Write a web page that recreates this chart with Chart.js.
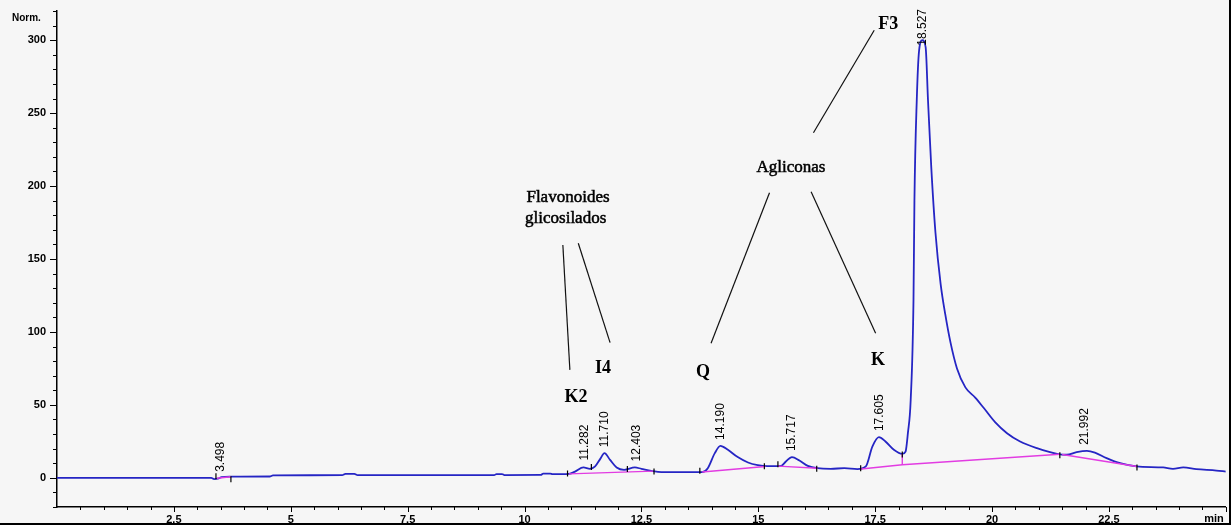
<!DOCTYPE html>
<html>
<head>
<meta charset="utf-8">
<script src="https://cdn.jsdelivr.net/npm/chart.js@4.4.0/dist/chart.umd.min.js"></script>
<style>
    html, body { margin: 0; padding: 0; background: #f6f6f6; }
    canvas { display: block; }
</style>
</head>
<body>
<canvas id="cromatograma" width="1231" height="525"></canvas>
<script>
const tiempos = [
    0.00, 3.30, 3.36, 3.44, 3.52, 3.70, 4.55, 4.62, 6.10, 6.17, 6.36, 6.43,
    9.35, 9.40, 9.52, 9.57, 10.35, 10.40, 10.55, 10.60, 10.95, 11.08, 11.26, 11.40,
    11.51, 11.62, 11.71, 11.83, 11.97, 12.13, 12.36, 12.50, 12.71, 12.93, 13.80, 13.92,
    14.07, 14.19, 14.35, 14.56, 14.78, 14.99, 15.20, 15.49, 15.59, 15.72, 15.88, 16.06,
    16.27, 16.55, 16.84, 17.12, 17.30, 17.44, 17.58, 17.72, 17.90, 18.08, 18.15, 18.20,
    18.26, 18.32, 18.34, 18.39, 18.44, 18.51, 18.58, 18.63, 18.70, 18.79, 18.90, 19.00,
    19.11, 19.25, 19.43, 19.64, 19.82, 20.07, 20.32, 20.60, 20.96, 21.39, 21.60, 21.81,
    22.03, 22.20, 22.45, 22.74, 23.09, 23.66, 23.87, 24.09, 24.37, 24.80, 25.00
];
const senal = [
    0.0, 0.0, -0.9, -0.6, 0.4, 0.8, 0.9, 1.7, 1.8, 2.7, 2.7, 1.8,
    1.8, 2.6, 2.6, 1.9, 2.0, 2.9, 2.9, 2.5, 2.7, 4.3, 7.1, 6.2,
    7.8, 13.0, 16.9, 12.3, 7.1, 5.5, 7.1, 6.2, 4.8, 3.9, 3.9, 6.6,
    16.9, 21.9, 19.2, 14.2, 10.5, 8.7, 8.0, 8.2, 11.2, 14.2, 11.9, 8.2,
    6.6, 6.2, 6.6, 6.0, 7.8, 21.4, 27.9, 24.9, 19.2, 16.4, 18.0, 30.6,
    53.4, 122, 190, 259, 293, 300, 295, 259, 213, 168, 133, 112,
    93, 75, 62, 55, 48, 38, 30.6, 24.9, 20.3, 16.4, 15.8, 17.6,
    18.5, 17.3, 13.5, 10.0, 7.8, 7.1, 6.2, 7.1, 6.0, 5.0, 4.3
];

// linea base de integracion (null corta el trazo)
const baseTiempos = [3.42, 3.72, 3.72, 10.95, 12.75, 12.75, 13.80, 15.15, 15.15, 15.42, 16.27, 16.27, 17.20, 18.08, 21.45, 21.45, 21.50, 23.10];
const baseValores = [-0.3, 0.7, null, 2.7, 4.6, null, 4.0, 7.8, null, 8.0, 6.6, null, 6.0, 9.0, 16.2, null, 16.0, 7.8];

// corte vertical en el valle antes del pico principal
const corteTiempos = [18.08, 18.08];
const corteValores = [9.0, 16.4];

// marcas de inicio / fin de integracion
const marcaTiempos = [3.40, 3.72, 10.92, 11.43, 12.20, 12.77, 13.75, 15.13, 15.42, 16.25, 17.19, 18.08, 21.45, 23.10];
const marcaValores = [1.0, -1.0, 3.0, 7.5, 6.0, 4.4, 4.8, 8.0, 9.3, 6.3, 6.5, 16.0, 15.5, 7.0];

// picos con tiempo de retencion
const picoTiempos = [3.498, 11.282, 11.710, 12.403, 14.190, 15.717, 17.605, 18.527, 21.992];
const picoAlturas = [0, 7.8, 16.9, 7.1, 21.9, 14.2, 27.9, 300, 18.5];
const picoEtiquetas = ['3.498', '11.282', '11.710', '12.403', '14.190', '15.717', '17.605', '18.527', '21.992'];

// ejes
const xMin = 0, xMax = 25, xPaso = 0.5, xMayor = 2.5;
const yMin = -20, yMax = 320, yPaso = 10, yMayor = 50;

// anotaciones (en unidades de datos)
const notas = [
    { texto: 'Flavonoides', t: 10.93, v: 189.0, negrita: false },
    { texto: 'glicosilados', t: 10.88, v: 174.7, negrita: false },
    { texto: 'Agliconas', t: 15.70, v: 209.8, negrita: false },
    { texto: 'K2', t: 11.10, v: 52.3, negrita: true },
    { texto: 'I4', t: 11.68, v: 72.1, negrita: true },
    { texto: 'Q', t: 13.82, v: 69.4, negrita: true },
    { texto: 'K', t: 17.56, v: 77.4, negrita: true },
    { texto: 'F3', t: 17.78, v: 308.0, negrita: true }
];
const guias = [
    [10.82, 159.6, 10.97, 74.0],
    [11.15, 160.8, 11.83, 92.7],
    [15.24, 195.4, 13.99, 92.3],
    [16.13, 196.1, 17.51, 99.1],
    [17.48, 306.8, 16.18, 236.5]
];

const sans = '"Liberation Sans", Arial, sans-serif';
const serif = '"Liberation Serif", "Times New Roman", serif';

function esMultiplo(v, m) {
    return Math.abs(v / m - Math.round(v / m)) < 1e-6;
}

function puntos(xs, ys) {
    return xs.map((t, i) => ({ x: t, y: ys[i] }));
}

const fondo = {
    id: 'fondo',
    beforeDraw(chart) {
        const ctx = chart.ctx;
        ctx.save();
        ctx.fillStyle = '#f6f6f6';
        ctx.fillRect(0, 0, chart.width, chart.height);
        ctx.restore();
    }
};

const decoracion = {
    id: 'decoracion',
    afterDatasetsDraw(chart) {
        const { ctx, scales: { x, y } } = chart;
        ctx.save();

        // etiquetas de tiempo de retencion, giradas
        ctx.fillStyle = '#000';
        ctx.font = '12px ' + sans;
        ctx.textAlign = 'left';
        ctx.textBaseline = 'middle';
        picoTiempos.forEach((t, i) => {
            const w = ctx.measureText(picoEtiquetas[i]).width;
            const px = x.getPixelForValue(t);
            let py = y.getPixelForValue(picoAlturas[i]) - 6;
            if (py - w < 9) py = 9 + w;
            ctx.save();
            ctx.translate(px, py);
            ctx.rotate(-Math.PI / 2);
            ctx.fillText(picoEtiquetas[i], 0, 0);
            ctx.restore();
        });

        // lineas guia de las anotaciones
        ctx.strokeStyle = '#111';
        ctx.lineWidth = 1.2;
        guias.forEach(g => {
            ctx.beginPath();
            ctx.moveTo(x.getPixelForValue(g[0]), y.getPixelForValue(g[1]));
            ctx.lineTo(x.getPixelForValue(g[2]), y.getPixelForValue(g[3]));
            ctx.stroke();
        });

        // texto de las anotaciones, algo engrosado como en el original
        ctx.textAlign = 'center';
        ctx.textBaseline = 'alphabetic';
        ctx.lineWidth = 0.5;
        ctx.strokeStyle = '#000';
        notas.forEach(n => {
            ctx.font = (n.negrita ? 'bold 18px ' : '17px ') + serif;
            const px = x.getPixelForValue(n.t);
            const py = y.getPixelForValue(n.v);
            ctx.fillText(n.texto, px, py);
            if (!n.negrita) ctx.strokeText(n.texto, px, py);
        });
        ctx.restore();
    },
    afterDraw(chart) {
        const { ctx, chartArea, scales: { x, y } } = chart;
        ctx.save();
        ctx.strokeStyle = '#000';
        ctx.lineWidth = 1;

        // marcas del eje Y
        y.ticks.forEach(tk => {
            const py = Math.round(y.getPixelForValue(tk.value)) + 0.5;
            const largo = esMultiplo(tk.value, yMayor) ? 7 : 4;
            ctx.beginPath();
            ctx.moveTo(chartArea.left - largo, py);
            ctx.lineTo(chartArea.left, py);
            ctx.stroke();
        });

        // marcas del eje X
        x.ticks.forEach(tk => {
            if (tk.value <= xMin) return;
            const px = Math.round(x.getPixelForValue(tk.value)) + 0.5;
            const largo = esMultiplo(tk.value, xMayor) ? 5 : 3;
            ctx.beginPath();
            ctx.moveTo(px, chartArea.bottom);
            ctx.lineTo(px, chartArea.bottom + largo);
            ctx.stroke();
        });

        ctx.fillStyle = '#000';
        ctx.font = 'bold 11px ' + sans;
        ctx.textAlign = 'right';
        ctx.textBaseline = 'top';
        ctx.fillText('min', chartArea.right - 2, chartArea.bottom + 6);

        ctx.textAlign = 'left';
        ctx.textBaseline = 'alphabetic';
        ctx.font = 'bold 10px ' + sans;
        ctx.fillText('Norm.', 12, 21);

        // marco derecho e inferior
        ctx.fillRect(chart.width - 2, 0, 2, chart.height);
        ctx.fillRect(0, chart.height - 2, chart.width, 2);
        ctx.restore();
    }
};

document.addEventListener('DOMContentLoaded', () => {
    const ctx = document.getElementById('cromatograma').getContext('2d');
    new Chart(ctx, {
        type: 'line',
        data: {
            datasets: [
                {
                    label: 'señal',
                    data: puntos(tiempos, senal),
                    borderColor: '#2525c4',
                    borderWidth: 1.8,
                    pointRadius: 0,
                    cubicInterpolationMode: 'monotone',
                    order: 3
                },
                {
                    label: 'linea base',
                    data: puntos(baseTiempos, baseValores),
                    borderColor: '#e23ce2',
                    borderWidth: 1.4,
                    pointRadius: 0,
                    spanGaps: false,
                    tension: 0,
                    order: 2
                },
                {
                    label: 'corte',
                    data: puntos(corteTiempos, corteValores),
                    borderColor: '#e23ce2',
                    borderWidth: 1.4,
                    pointRadius: 0,
                    order: 2
                },
                {
                    label: 'marcas',
                    data: puntos(marcaTiempos, marcaValores),
                    showLine: false,
                    pointStyle: 'line',
                    rotation: 90,
                    pointRadius: 3,
                    borderColor: '#000',
                    borderWidth: 1.2,
                    order: 1
                }
            ]
        },
        options: {
            responsive: false,
            animation: false,
            layout: { padding: { top: 11, right: 2, left: 0, bottom: 0 } },
            plugins: {
                legend: { display: false },
                tooltip: { enabled: false }
            },
            scales: {
                x: {
                    type: 'linear',
                    min: xMin,
                    max: xMax,
                    afterFit: s => { s.height = 18; },
                    border: { display: true, color: '#000', width: 1.5 },
                    grid: { display: false, drawTicks: true, tickLength: 5 },
                    ticks: {
                        stepSize: xPaso,
                        autoSkip: false,
                        maxRotation: 0,
                        minRotation: 0,
                        padding: 1,
                        color: '#000',
                        font: { family: sans, size: 11, weight: 'bold' },
                        callback: v => (esMultiplo(v, xMayor) && v > xMin && v < xMax) ? String(v) : ''
                    }
                },
                y: {
                    min: yMin,
                    max: yMax,
                    afterFit: s => { s.width = 57; },
                    border: { display: true, color: '#000', width: 1.5 },
                    grid: { display: false, drawTicks: true, tickLength: 7 },
                    ticks: {
                        stepSize: yPaso,
                        autoSkip: false,
                        padding: 4,
                        color: '#000',
                        font: { family: sans, size: 11, weight: 'bold' },
                        callback: v => esMultiplo(v, yMayor) ? String(v) : ''
                    }
                }
            }
        },
        plugins: [fondo, decoracion]
    });
});
</script>
</body>
</html>
